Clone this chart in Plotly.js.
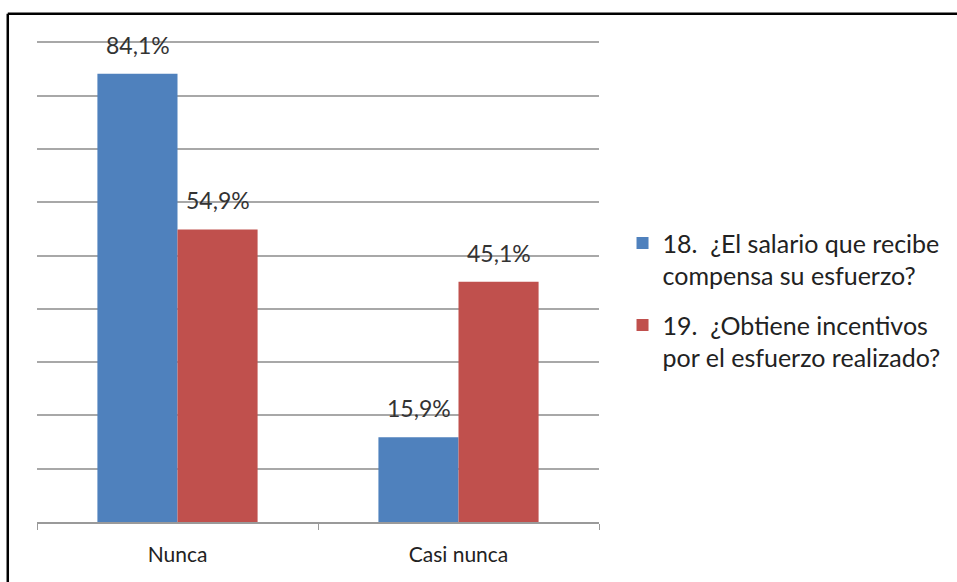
<!DOCTYPE html>
<html>
<head>
<meta charset="utf-8">
<script src="https://cdn.plot.ly/plotly-3.0.1.min.js"></script>
<style>html,body{margin:0;padding:0;background:#fff;}#chart{width:957px;height:582px;}</style>
</head>
<body>
<div id="chart"></div>
<script>
const categories = ["Nunca", "Casi nunca"];
const serie18 = [84.1, 15.9];
const serie19 = [54.9, 45.1];
const name18 = "18.  ¿El salario que recibe<br>compensa su esfuerzo?";
const name19 = "19.  ¿Obtiene incentivos<br>por el esfuerzo realizado?";
const gridVals = [10, 20, 30, 40, 50, 60, 70, 80, 90];
const fmt = v => v.toFixed(1).replace('.', ',') + '%';

const font = "Lato, 'Open Sans', sans-serif";
const data = [
  {type: 'bar', x: categories, y: serie18, name: name18, legendgroup: 'g18', marker: {color: '#4F81BD'}},
  {type: 'bar', x: categories, y: serie19, name: name19, legendgroup: 'g19', marker: {color: '#C0504D'}}
];
const annotations = [];
[[serie18, -40], [serie19, 40]].forEach(([vals, dx]) => {
  vals.forEach((v, i) => annotations.push({
    x: categories[i], y: v, xref: 'x', yref: 'y', text: fmt(v), showarrow: false,
    xshift: dx, yshift: 13, yanchor: 'bottom',
    font: {family: font, size: 23, color: '#333'}
  }));
});
const layout = {
  width: 957, height: 582,
  margin: {l: 37, r: 357, t: 37, b: 60},
  paper_bgcolor: '#fff', plot_bgcolor: '#fff',
  font: {family: font, size: 20, color: '#333'},
  barmode: 'group', bargap: 0.43, bargroupgap: 0,
  xaxis: {showline: true, linecolor: '#9A9A9A', linewidth: 1.5,
          ticks: 'outside', tickson: 'boundaries', ticklen: 6, tickcolor: '#9A9A9A',
          ticklabelstandoff: 13,
          tickfont: {size: 21, color: '#222'}, showgrid: false},
  yaxis: {range: [0, 91], tickvals: gridVals,
          showticklabels: false, showgrid: true,
          gridcolor: '#A8A8A8', gridwidth: 1.5, zeroline: false, ticks: ''},
  legend: {x: 1.04, y: 0.457, xanchor: 'left', yanchor: 'middle', valign: 'top',
           font: {size: 25, color: '#222'}, tracegroupgap: 14, itemwidth: 30},
  showlegend: true,
  annotations: annotations,
  shapes: [
    {type: 'line', xref: 'paper', yref: 'paper', x0: -0.052, x1: 1.7, y0: 1.048, y1: 1.048,
     line: {color: '#000', width: 2.5}},
    {type: 'line', xref: 'paper', yref: 'paper', x0: -0.052, x1: -0.052, y0: 1.048, y1: -0.15,
     line: {color: '#000', width: 2.5}}
  ]
};
Plotly.newPlot('chart', data, layout, {displayModeBar: false});
</script>
</body>
</html>
